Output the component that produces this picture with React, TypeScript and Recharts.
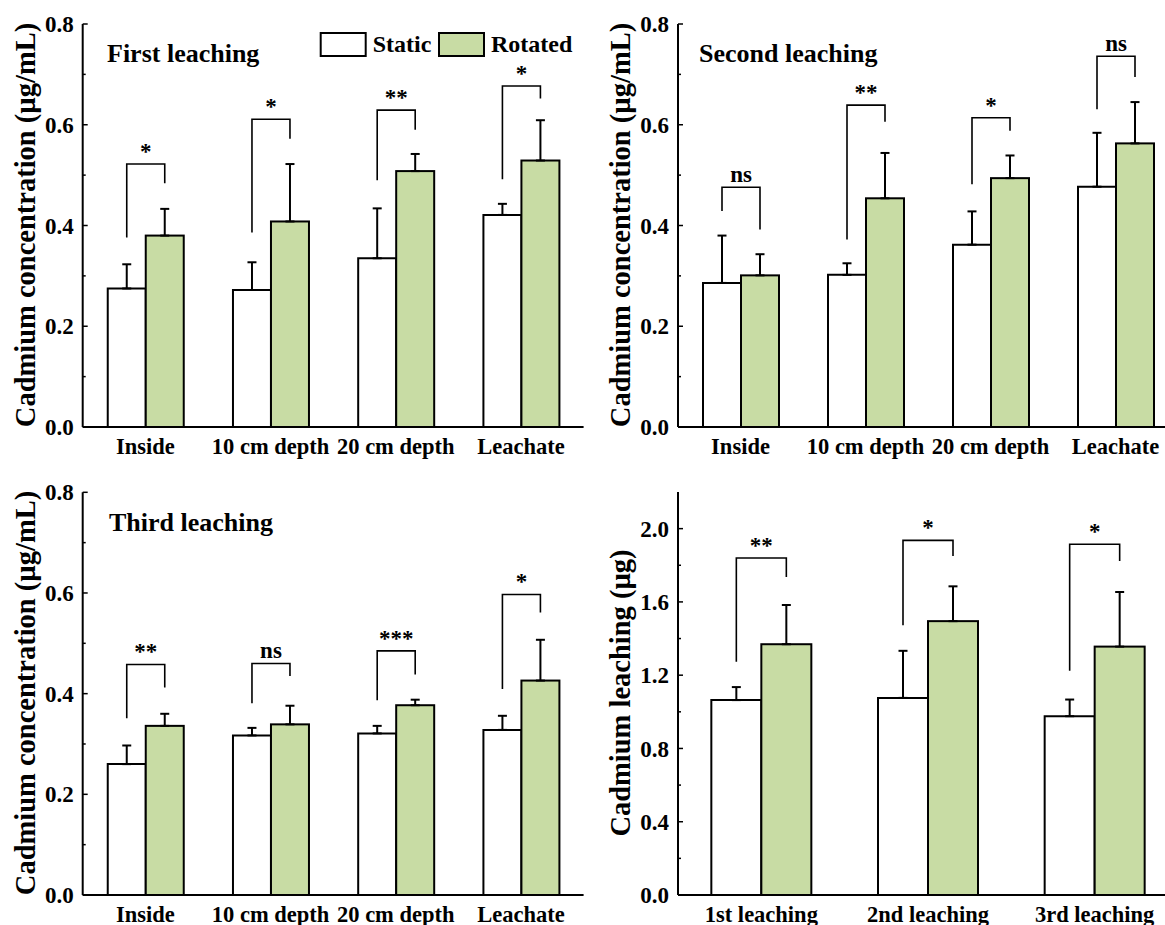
import React from 'react';
import { BarChart, Bar, XAxis, YAxis, ErrorBar, Legend } from 'recharts';

const FONT = "'Times New Roman', 'Liberation Serif', Times, serif";
const GREEN = '#c8dca4';

// ---------- data ----------
const depthCategories = ['Inside', '10 cm depth', '20 cm depth', 'Leachate'];
const leachCategories = ['1st leaching', '2nd leaching', '3rd leaching'];

// First leaching (µg/mL)
const firstStatic = [0.275, 0.272, 0.335, 0.421];
const firstStaticErr = [0.048, 0.055, 0.099, 0.022];
const firstRotated = [0.38, 0.408, 0.508, 0.529];
const firstRotatedErr = [0.053, 0.114, 0.034, 0.08];
const firstBrackets = [
  [0.376, 0.522, 0.484],
  [0.386, 0.611, 0.572],
  [0.49, 0.629, 0.59],
  [0.492, 0.677, 0.652],
];
const firstSig = ['*', '*', '**', '*'];

// Second leaching (µg/mL)
const secondStatic = [0.286, 0.302, 0.362, 0.477];
const secondStaticErr = [0.094, 0.023, 0.066, 0.107];
const secondRotated = [0.301, 0.454, 0.494, 0.563];
const secondRotatedErr = [0.042, 0.09, 0.045, 0.082];
const secondBrackets = [
  [0.429, 0.476, 0.392],
  [0.372, 0.639, 0.606],
  [0.482, 0.614, 0.588],
  [0.631, 0.736, 0.695],
];
const secondSig = ['ns', '**', '*', 'ns'];

// Third leaching (µg/mL)
const thirdStatic = [0.26, 0.317, 0.321, 0.328];
const thirdStaticErr = [0.037, 0.015, 0.015, 0.028];
const thirdRotated = [0.336, 0.339, 0.377, 0.426];
const thirdRotatedErr = [0.024, 0.037, 0.011, 0.081];
const thirdBrackets = [
  [0.351, 0.458, 0.412],
  [0.381, 0.46, 0.435],
  [0.387, 0.485, 0.438],
  [0.409, 0.597, 0.561],
];
const thirdSig = ['**', 'ns', '***', '*'];

// Total leaching (µg)
const totalStatic = [1.064, 1.076, 0.976];
const totalStaticErr = [0.071, 0.257, 0.091];
const totalRotated = [1.369, 1.495, 1.356];
const totalRotatedErr = [0.214, 0.19, 0.298];
const totalBrackets = [
  [1.273, 1.84, 1.736],
  [1.473, 1.936, 1.851],
  [1.224, 1.915, 1.824],
];
const totalSig = ['**', '*', '*'];

// ticks
const concTicks = [0, 0.1, 0.2, 0.3, 0.4, 0.5, 0.6, 0.7, 0.8];
const concMajor = [0, 0.2, 0.4, 0.6, 0.8];
const massTicks = [0, 0.2, 0.4, 0.6, 0.8, 1.0, 1.2, 1.4, 1.6, 1.8, 2.0];
const massMajor = [0, 0.4, 0.8, 1.2, 1.6, 2.0];

const seriesNames = ['Static', 'Rotated'];
const seriesFills = ['#ffffff', GREEN];

function buildRows(
  cats: string[],
  s: number[],
  se: number[],
  r: number[],
  re: number[],
  br: number[][],
  sig: string[]
) {
  return cats.map((c, i) => ({
    cat: c,
    static: s[i],
    staticErr: se[i],
    rotated: r[i],
    rotatedErr: re[i],
    bracket: br[i],
    sig: sig[i],
  }));
}

const firstRows = buildRows(depthCategories, firstStatic, firstStaticErr, firstRotated, firstRotatedErr, firstBrackets, firstSig);
const secondRows = buildRows(depthCategories, secondStatic, secondStaticErr, secondRotated, secondRotatedErr, secondBrackets, secondSig);
const thirdRows = buildRows(depthCategories, thirdStatic, thirdStaticErr, thirdRotated, thirdRotatedErr, thirdBrackets, thirdSig);
const totalRows = buildRows(leachCategories, totalStatic, totalStaticErr, totalRotated, totalRotatedErr, totalBrackets, totalSig);

// ---------- pieces ----------
function makeYTick(majors: number[]) {
  return (props: any) => {
    const { x, y, payload } = props;
    const v = Number(payload.value);
    const isMajor = majors.some((m) => Math.abs(m - v) < 1e-9);
    const ax = x + 9;
    return (
      <g>
        <line x1={ax} x2={ax + (isMajor ? 5 : 3)} y1={y} y2={y} stroke="#000" strokeWidth={1.5} />
        {isMajor && (
          <text x={x} y={y} dy="0.35em" textAnchor="end" fontFamily={FONT} fontWeight="bold" fontSize={23} fill="#000">
            {v.toFixed(1)}
          </text>
        )}
      </g>
    );
  };
}

const XTick = (props: any) => {
  const { x, y, payload } = props;
  return (
    <text x={x} y={y} dy="0.71em" textAnchor="middle" fontFamily={FONT} fontWeight="bold" fontSize={22.5} fill="#000">
      {payload.value}
    </text>
  );
};

const RotatedShape = (props: any) => {
  const { x, y, width, height, payload } = props;
  const v = payload.rotated;
  const bottom = y + height;
  const k = height / v;
  const py = (val: number) => bottom - val * k;
  const [lb, top, rb] = payload.bracket;
  const lx = x - width / 2;
  const rx = x + width / 2;
  return (
    <g>
      <rect x={x} y={y} width={width} height={height} fill={GREEN} stroke="#000" strokeWidth={2} />
      <polyline
        points={`${lx},${py(lb)} ${lx},${py(top)} ${rx},${py(top)} ${rx},${py(rb)}`}
        fill="none"
        stroke="#000"
        strokeWidth={1.6}
      />
      <text x={x} y={py(top) - 5} textAnchor="middle" fontFamily={FONT} fontWeight="bold" fontSize={23} fill="#000">
        {payload.sig}
      </text>
    </g>
  );
};

const legendOffsets = [0.7, 119];

const LegendContent = () => {
  return (
    <svg width={262} height={30} style={{ display: 'block', overflow: 'visible' }}>
      {seriesNames.map((name, i) => (
        <g key={name}>
          <rect
            x={legendOffsets[i]}
            y={1}
            width={45}
            height={23}
            fill={seriesFills[i]}
            stroke="#000"
            strokeWidth={2}
          />
          <text
            x={legendOffsets[i] + 52}
            y={20}
            fontFamily={FONT}
            fontWeight="bold"
            fontSize={24}
            fill="#000"
          >
            {name}
          </text>
        </g>
      ))}
    </svg>
  );
};

type PanelProps = {
  left: number;
  top: number;
  w: number;
  h: number;
  plot: [number, number, number, number]; // left, top, right, bottom in page coords
  rows: any[];
  domain: [number, number];
  ticks: number[];
  majors: number[];
  legend?: boolean;
};

const YAXIS_W = 60;
const XAXIS_H = 30;

function Panel({ left, top, w, h, plot, rows, domain, ticks, majors, legend }: PanelProps) {
  const margin = {
    left: plot[0] - left - YAXIS_W,
    top: plot[1] - top,
    right: left + w - plot[2],
    bottom: top + h - plot[3] - XAXIS_H,
  };
  const axisLine = { stroke: '#000', strokeWidth: 2 };
  return (
    <div style={{ position: 'absolute', left, top, width: w, height: h }}>
      <BarChart
        width={w}
        height={h}
        data={rows}
        margin={margin}
        barCategoryGap="20%"
        barGap={0}
        style={{ fontFamily: FONT }}
      >
        <XAxis
          dataKey="cat"
          height={XAXIS_H}
          interval={0}
          tickLine={false}
          tickSize={0}
          tickMargin={11}
          axisLine={axisLine}
          tick={<XTick />}
        />
        <XAxis xAxisId="top" dataKey="cat" orientation="top" height={0} tick={false} tickLine={false} axisLine={axisLine} />
        <YAxis
          type="number"
          width={YAXIS_W}
          domain={domain}
          ticks={ticks}
          interval={0}
          allowDataOverflow
          tickLine={false}
          tickSize={0}
          tickMargin={9}
          axisLine={axisLine}
          tick={makeYTick(majors)}
        />
        <YAxis
          yAxisId="right"
          orientation="right"
          type="number"
          width={0}
          domain={domain}
          tick={false}
          tickLine={false}
          axisLine={axisLine}
        />
        {legend && (
          <Legend
            layout="horizontal"
            verticalAlign="middle"
            align="center"
            wrapperStyle={{ top: 32, left: 320, width: 262, height: 30 }}
            content={<LegendContent />}
          />
        )}
        <Bar
          dataKey="static"
          name={seriesNames[0]}
          fill={seriesFills[0]}
          stroke="#000"
          strokeWidth={2}
          isAnimationActive={false}
        >
          <ErrorBar dataKey={(d: any) => [0, d.staticErr]} width={4.5} stroke="#000" strokeWidth={2} direction="y" />
        </Bar>
        <Bar
          dataKey="rotated"
          name={seriesNames[1]}
          fill={seriesFills[1]}
          stroke="#000"
          strokeWidth={2}
          isAnimationActive={false}
          shape={<RotatedShape />}
        >
          <ErrorBar dataKey={(d: any) => [0, d.rotatedErr]} width={4.5} stroke="#000" strokeWidth={2} direction="y" />
        </Bar>
      </BarChart>
    </div>
  );
}

const titles = [
  { text: 'First leaching', x: 107, y: 62 },
  { text: 'Second leaching', x: 699, y: 62 },
  { text: 'Third leaching', x: 109, y: 530.5 },
];

const yLabels = [
  { text: 'Cadmium concentration (µg/mL)', x: 25, y: 225 },
  { text: 'Cadmium concentration (µg/mL)', x: 620, y: 225 },
  { text: 'Cadmium concentration (µg/mL)', x: 25, y: 693 },
  { text: 'Cadmium leaching (µg)', x: 620, y: 693 },
];

export default function App() {
  return (
    <div
      style={{
        position: 'absolute',
        left: 0,
        top: 0,
        width: 1165,
        height: 925,
        overflow: 'hidden',
        background: '#fff',
      }}
    >
      <Panel left={0} top={0} w={600} h={465} plot={[82.7, 24, 583.6, 427]} rows={firstRows} domain={[0, 0.8]} ticks={concTicks} majors={concMajor} legend />
      <Panel left={585} top={0} w={600} h={465} plot={[678, 24, 1178, 427]} rows={secondRows} domain={[0, 0.8]} ticks={concTicks} majors={concMajor} />
      <Panel left={0} top={465} w={600} h={460} plot={[82.7, 492.3, 583.6, 895]} rows={thirdRows} domain={[0, 0.8]} ticks={concTicks} majors={concMajor} />
      <Panel left={585} top={465} w={600} h={460} plot={[678, 492, 1178, 895]} rows={totalRows} domain={[0, 2.2]} ticks={massTicks} majors={massMajor} />
      <svg
        width={1165}
        height={925}
        style={{ position: 'absolute', left: 0, top: 0, pointerEvents: 'none' }}
      >
        {titles.map((t, i) => (
          <text key={i} x={t.x} y={t.y} fontFamily={FONT} fontWeight="bold" fontSize={26} fill="#000">
            {t.text}
          </text>
        ))}
        {yLabels.map((t, i) => (
          <text
            key={i}
            x={t.x}
            y={t.y}
            dy="0.35em"
            transform={`rotate(-90 ${t.x} ${t.y})`}
            textAnchor="middle"
            fontFamily={FONT}
            fontWeight="bold"
            fontSize={28.5}
            fill="#000"
          >
            {t.text}
          </text>
        ))}
      </svg>
    </div>
  );
}
